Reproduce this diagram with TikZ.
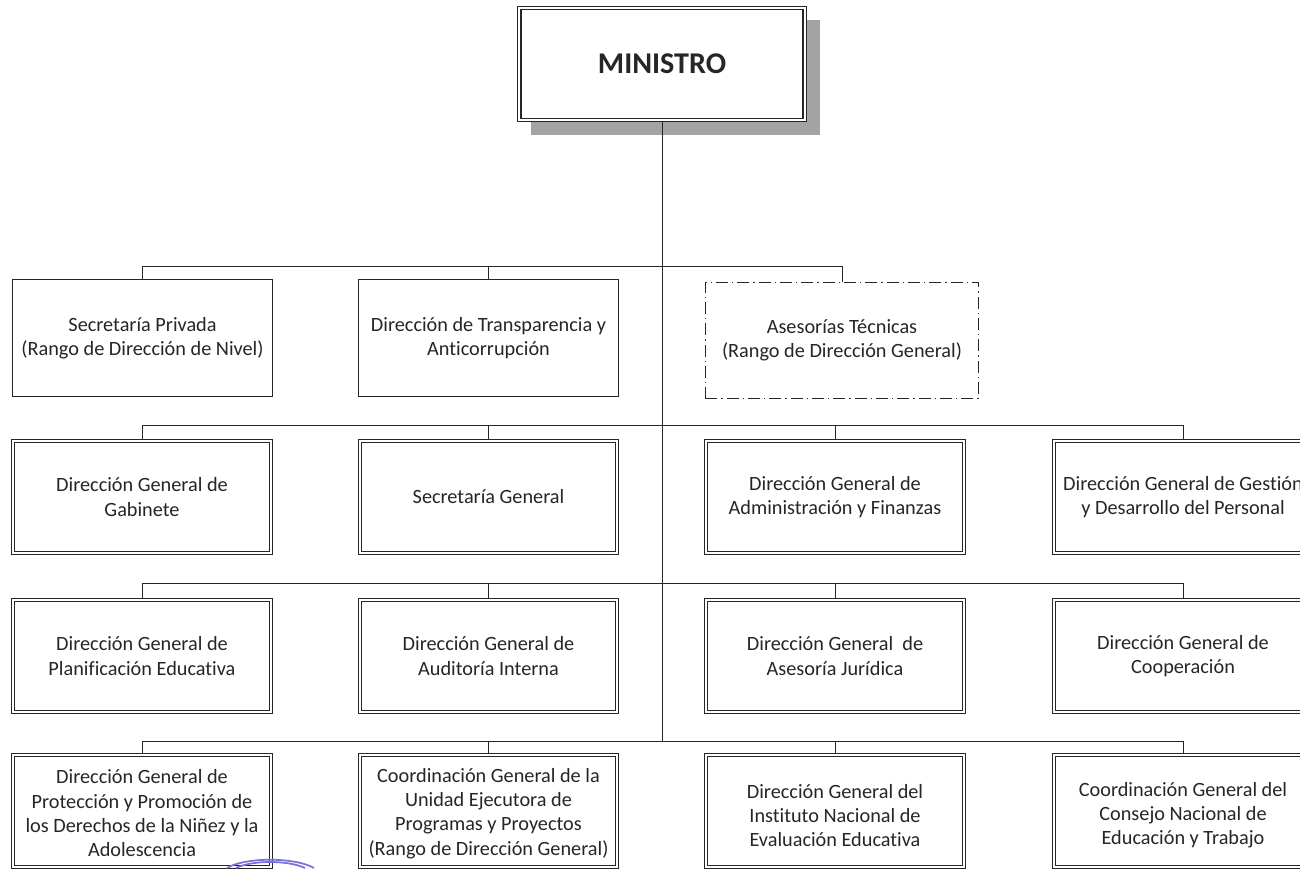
\documentclass[tikz,border=0pt]{standalone}
\usepackage{fontspec}
\setmainfont[Ligatures=NoCommon]{Carlito}
\definecolor{ink}{HTML}{262626}
\definecolor{stampblue}{HTML}{7A70DC}
\newcommand{\lowerA}{\rule{0pt}{14pt}}
\newcommand{\lowerB}{\rule{0pt}{17pt}}
\tikzset{
  orgbox/.style={draw=ink,align=center,text=ink,font=\fontsize{15.2}{18.2}\selectfont,inner sep=0pt,fill=white},
  single/.style={orgbox,line width=0.8pt,minimum width=195pt,minimum height=88pt},
  dashbox/.style={orgbox,line width=0.6pt,dash pattern=on 9pt off 3pt on 1pt off 3pt,minimum width=205pt,minimum height=87pt},
  dbl/.style={orgbox,double=white,double distance=1.3pt,line width=0.9pt,minimum width=193pt,minimum height=84pt},
  chief/.style={dbl,line width=1.1pt,minimum width=214pt,minimum height=84pt,font=\fontsize{22.6}{24}\selectfont\bfseries},
  conn/.style={draw=ink,line width=0.75pt},
  shade/.style={fill=black!36,draw=none},
  stamp/.style={draw=stampblue,line width=1.3pt}
}
\begin{document}
\begin{tikzpicture}[x=0.75pt,y=-0.75pt]
\useasboundingbox (0,0) rectangle (1300,868);
\clip (0,0) rectangle (1300,868);
\fill[shade] (531,20) rectangle (820,135);
% bus coordinates on the trunk
\coordinate (b1) at (662,266);
\coordinate (b2) at (662,425);
\coordinate (b3) at (662,583);
\coordinate (b4) at (662,741);
\node[chief] (min) at (662,64) {MINISTRO};
% row 1
\node[single] (r1a) at (142.5,338) {Secretaría Privada\\(Rango de Dirección de Nivel)};
\node[single] (r1b) at (488.5,338) {Dirección de Transparencia y\\Anticorrupción};
\node[dashbox] (r1c) at (842,340) {Asesorías Técnicas\\(Rango de Dirección General)};
% row 2
\node[dbl] (r2a) at (142,497) {Dirección General de\\Gabinete};
\node[dbl] (r2b) at (488.5,497) {Secretaría General};
\node[dbl] (r2c) at (835,497) {Dirección General de\\Administración y Finanzas};
\node[dbl] (r2d) at (1183,497) {Dirección General de Gestión\\y Desarrollo del Personal};
% row 3
\node[dbl] (r3a) at (142,656) {Dirección General de\\Planificación Educativa};
\node[dbl] (r3b) at (488.5,656) {Dirección General de\\Auditoría Interna};
\node[dbl] (r3c) at (835,656) {Dirección General\ \ de\\Asesoría Jurídica};
\node[dbl] (r3d) at (1183,656) {Dirección General de\\Cooperación};
% row 4
\node[dbl] (r4a) at (142,811) {\lowerA Dirección General de\\Protección y Promoción de\\los Derechos de la Niñez y la\\Adolescencia};
\node[dbl] (r4b) at (488.5,811) {\lowerA Coordinación General de la\\Unidad Ejecutora de\\Programas y Proyectos\\(Rango de Dirección General)};
\node[dbl] (r4c) at (835,811) {\lowerB Dirección General del\\Instituto Nacional de\\Evaluación Educativa};
\node[dbl] (r4d) at (1183,811) {\lowerB Coordinación General del\\Consejo Nacional de\\Educación y Trabajo};
% connectors
\draw[conn] (min.south) -- (b4);
\draw[conn] (b1) -| (r1a.north);
\draw[conn] (b1) -| (r1b.north);
\draw[conn] (b1) -| (r1c.north);
\draw[conn] (b2) -| (r2a.north);
\draw[conn] (b2) -| (r2b.north);
\draw[conn] (b2) -| (r2c.north);
\draw[conn] (b2) -| (r2d.north);
\draw[conn] (b3) -| (r3a.north);
\draw[conn] (b3) -| (r3b.north);
\draw[conn] (b3) -| (r3c.north);
\draw[conn] (b3) -| (r3d.north);
\draw[conn] (b4) -| (r4a.north);
\draw[conn] (b4) -| (r4b.north);
\draw[conn] (b4) -| (r4c.north);
\draw[conn] (b4) -| (r4d.north);
% seal fragment at the bottom edge
\draw[stamp] (227,868) .. controls (245,857) and (295,857) .. (314,868);
\draw[stamp] (236,868) .. controls (252,860) and (288,860) .. (305,868);
\end{tikzpicture}
\end{document}
